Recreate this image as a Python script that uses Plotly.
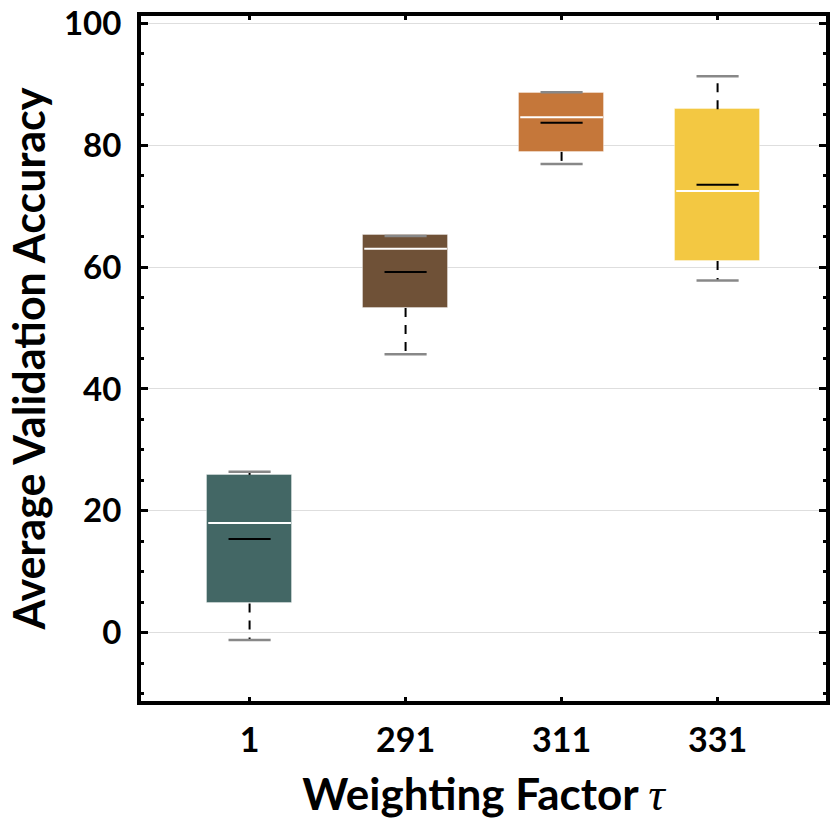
import plotly.graph_objects as go

# weighting factor categories and box statistics
categories = ["1", "291", "311", "331"]
lower_whisker = [-1.2, 45.7, 76.9, 57.8]
q1 = [4.8, 53.3, 78.9, 61.0]
median = [18.0, 63.0, 84.6, 72.5]
mean = [15.4, 59.2, 83.7, 73.5]
q3 = [25.9, 65.2, 88.6, 85.9]
upper_whisker = [26.4, 65.1, 88.7, 91.3]
colors = ["#436765", "#6F5137", "#C5773A", "#F3C842"]

xpos = list(range(1, len(categories) + 1))
box_w = 0.55
cap_w = 0.27


def segments(xc, half, ys):
    xx, yy = [], []
    for x, y in zip(xc, ys):
        xx += [x - half, x + half, None]
        yy += [y, y, None]
    return xx, yy


def vsegments(xc, y0s, y1s):
    xx, yy = [], []
    for x, a, b in zip(xc, y0s, y1s):
        xx += [x, x, None]
        yy += [a, b, None]
    return xx, yy


fig = go.Figure()

fig.add_trace(go.Bar(
    x=xpos,
    y=[b - a for a, b in zip(q1, q3)],
    base=q1,
    width=box_w,
    marker=dict(color=colors, line=dict(color="rgba(255,255,255,0.35)", width=1)),
    showlegend=False))

# dashed whiskers
wx, wy = vsegments(xpos, q3, upper_whisker)
wx2, wy2 = vsegments(xpos, q1, lower_whisker)
fig.add_trace(go.Scatter(
    x=wx + wx2, y=wy + wy2, mode="lines",
    line=dict(color="black", width=2, dash="9px,8px"),
    showlegend=False))

# whisker caps
cx, cy = segments(xpos, cap_w / 2, upper_whisker)
cx2, cy2 = segments(xpos, cap_w / 2, lower_whisker)
fig.add_trace(go.Scatter(
    x=cx + cx2, y=cy + cy2, mode="lines",
    line=dict(color="#888888", width=2.5),
    showlegend=False))

# median
mx, my = segments(xpos, box_w / 2 - 0.01, median)
fig.add_trace(go.Scatter(
    x=mx, y=my, mode="lines",
    line=dict(color="white", width=2),
    showlegend=False))

# mean
ax, ay = segments(xpos, cap_w / 2, mean)
fig.add_trace(go.Scatter(
    x=ax, y=ay, mode="lines",
    line=dict(color="black", width=2),
    showlegend=False))

fig.update_layout(
    width=830, height=830,
    margin=dict(l=141, r=4, t=16, b=129),
    plot_bgcolor="white",
    paper_bgcolor="white",
    font=dict(family="Lato", size=33, color="black", weight="bold"),
    bargap=0,
    xaxis=dict(
        range=[0.304, 4.695],
        tickvals=xpos,
        ticktext=categories,
        ticks="inside", ticklen=4, tickwidth=3, tickcolor="black",
        showline=True, linecolor="black", linewidth=4, mirror="allticks",
        showgrid=False, zeroline=False, automargin=False,
        ticklabelstandoff=6,
        tickfont=dict(family="Lato", size=34, weight="bold"),
        title=dict(text="Weighting Factor <span style='font-family:Liberation Serif;font-style:italic;font-weight:normal;font-size:46px'>τ</span>",
                   font=dict(family="Lato", size=44, weight="bold"), standoff=22),
    ),
    yaxis=dict(
        range=[-11.2, 101.2],
        tickvals=[0, 20, 40, 60, 80, 100],
        ticks="inside", ticklen=7, tickwidth=3, tickcolor="black",
        minor=dict(dtick=5, tick0=0, ticks="inside", ticklen=3, tickwidth=3,
                   tickcolor="black", showgrid=False),
        showline=True, linecolor="black", linewidth=4, mirror="allticks",
        showgrid=True, gridcolor="#dedede", gridwidth=1, zeroline=False,
        automargin=False,
        ticklabelstandoff=9,
        tickfont=dict(family="Lato", size=33, weight="bold"),
        title=dict(text="Average Validation Accuracy",
                   font=dict(family="Lato", size=43, weight="bold"), standoff=6),
    ),
)

fig.write_html("out.html", config={"displayModeBar": False},
               post_script="document.body.style.margin='0';")
